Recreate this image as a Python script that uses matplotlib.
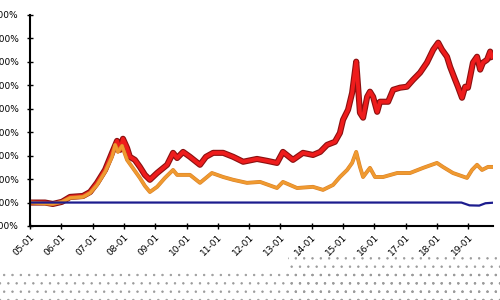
import numpy as np
import matplotlib
matplotlib.use("Agg")
import matplotlib.pyplot as plt
import matplotlib.patheffects as pe
from matplotlib.patches import Rectangle

# x in fractional years, y in % (axis runs 100% .. 1000%)
red_x = [2005.00, 2005.48, 2005.73, 2006.02, 2006.28, 2006.69, 2006.92, 2007.14, 2007.40,
         2007.62, 2007.78, 2007.88, 2007.97, 2008.10, 2008.19, 2008.35, 2008.51, 2008.67,
         2008.83, 2009.06, 2009.38, 2009.57, 2009.70, 2009.89, 2010.11, 2010.43, 2010.62,
         2010.85, 2011.17, 2011.49, 2011.81, 2012.25, 2012.57, 2012.89, 2013.08, 2013.40,
         2013.72, 2014.04, 2014.27, 2014.49, 2014.74, 2014.90, 2015.00, 2015.16, 2015.29,
         2015.42, 2015.48, 2015.54, 2015.64, 2015.77, 2015.86, 2015.96, 2016.09, 2016.18,
         2016.44, 2016.60, 2016.82, 2017.04, 2017.24, 2017.46, 2017.68, 2017.88, 2018.04,
         2018.16, 2018.32, 2018.42, 2018.58, 2018.67, 2018.80, 2018.90, 2018.99, 2019.15,
         2019.28, 2019.38, 2019.47, 2019.60, 2019.70, 2019.76]
red_y = [200, 200, 194, 203, 224, 228, 245, 284, 340,
         412, 463, 425, 472, 433, 395, 382, 352, 318,
         297, 326, 361, 412, 390, 416, 395, 361, 395,
         412, 412, 395, 374, 386, 378, 369, 416, 382,
         412, 403, 416, 446, 459, 497, 553, 596, 668,
         801, 694, 583, 562, 651, 673, 651, 587, 630,
         630, 681, 690, 694, 724, 754, 797, 852, 882,
         852, 822, 779, 724, 694, 647, 694, 690, 797,
         822, 767, 797, 809, 844, 822]

orange_x = [2005.00, 2005.73, 2006.02, 2006.28, 2006.69, 2006.92, 2007.14, 2007.40, 2007.62,
            2007.72, 2007.81, 2007.94, 2008.10, 2008.26, 2008.51, 2008.67, 2008.83, 2009.06,
            2009.31, 2009.57, 2009.70, 2009.89, 2010.11, 2010.43, 2010.81, 2011.17, 2011.49,
            2011.93, 2012.35, 2012.89, 2013.08, 2013.53, 2014.04, 2014.36, 2014.68, 2014.90,
            2015.13, 2015.29, 2015.42, 2015.54, 2015.64, 2015.86, 2016.02, 2016.28, 2016.73,
            2017.14, 2017.56, 2018.00, 2018.19, 2018.51, 2018.96, 2019.12, 2019.28, 2019.44,
            2019.63, 2019.76]
orange_y = [200, 194, 203, 220, 224, 241, 275, 331, 395,
            446, 416, 442, 382, 352, 305, 271, 245, 267,
            305, 339, 318, 318, 318, 284, 326, 309, 297,
            284, 288, 262, 288, 262, 267, 254, 275, 309,
            339, 369, 416, 352, 309, 348, 309, 309, 326,
            326, 348, 369, 352, 326, 305, 339, 361, 339,
            352, 352]

blue_x = [2005.00, 2018.78, 2019.04, 2019.35, 2019.55, 2019.76]
blue_y = [200, 200, 188, 187, 197, 199]

x_ticks = list(range(2005, 2020))
x_labels = ["%02d-01" % (y % 100) for y in x_ticks]
y_ticks = list(range(100, 1001, 100))
y_labels = ["%d%%" % v for v in y_ticks]

fig = plt.figure(figsize=(5, 3), dpi=100)
ax = fig.add_axes([0.06, 0.2467, 0.926, 0.7033])

ax.plot(red_x, red_y, color="#ee1c1c", lw=2.8, solid_joinstyle="round",
        path_effects=[pe.Stroke(linewidth=4.4, foreground="#8a1010"), pe.Normal()])
ax.plot(orange_x, orange_y, color="#f09a30", lw=2.0, solid_joinstyle="round",
        path_effects=[pe.Stroke(linewidth=2.8, foreground="#d9822a"), pe.Normal()])
ax.plot(blue_x, blue_y, color="#1c1c8e", lw=1.6)

ax.set_xlim(2005, 2019.79)
ax.set_ylim(100, 1000)
ax.set_xticks(x_ticks)
ax.set_xticklabels(x_labels, rotation=45, ha="right", rotation_mode="anchor", fontsize=6.5)
ax.set_yticks(y_ticks)
ax.set_yticklabels(y_labels, fontsize=6.5)
ax.tick_params(axis="both", direction="inout", length=4, width=1, color="black")
ax.tick_params(axis="y", pad=6)
ax.tick_params(axis="x", pad=3)

for s in ["top", "right"]:
    ax.spines[s].set_visible(False)
for s in ["left", "bottom"]:
    ax.spines[s].set_linewidth(1.5)

# dotted texture along the bottom
plt.rcParams["hatch.linewidth"] = 0.5
for rx, ry, rw, rh in [(0.576, 0.0, 0.424, 0.155), (0.0, 0.0, 1.0, 0.1)]:
    fig.add_artist(Rectangle((rx, ry), rw, rh, transform=fig.transFigure,
                             facecolor="none", edgecolor="#9a9a9a", hatch="..",
                             lw=0, zorder=-1))

fig.savefig("out.png", dpi=100)
